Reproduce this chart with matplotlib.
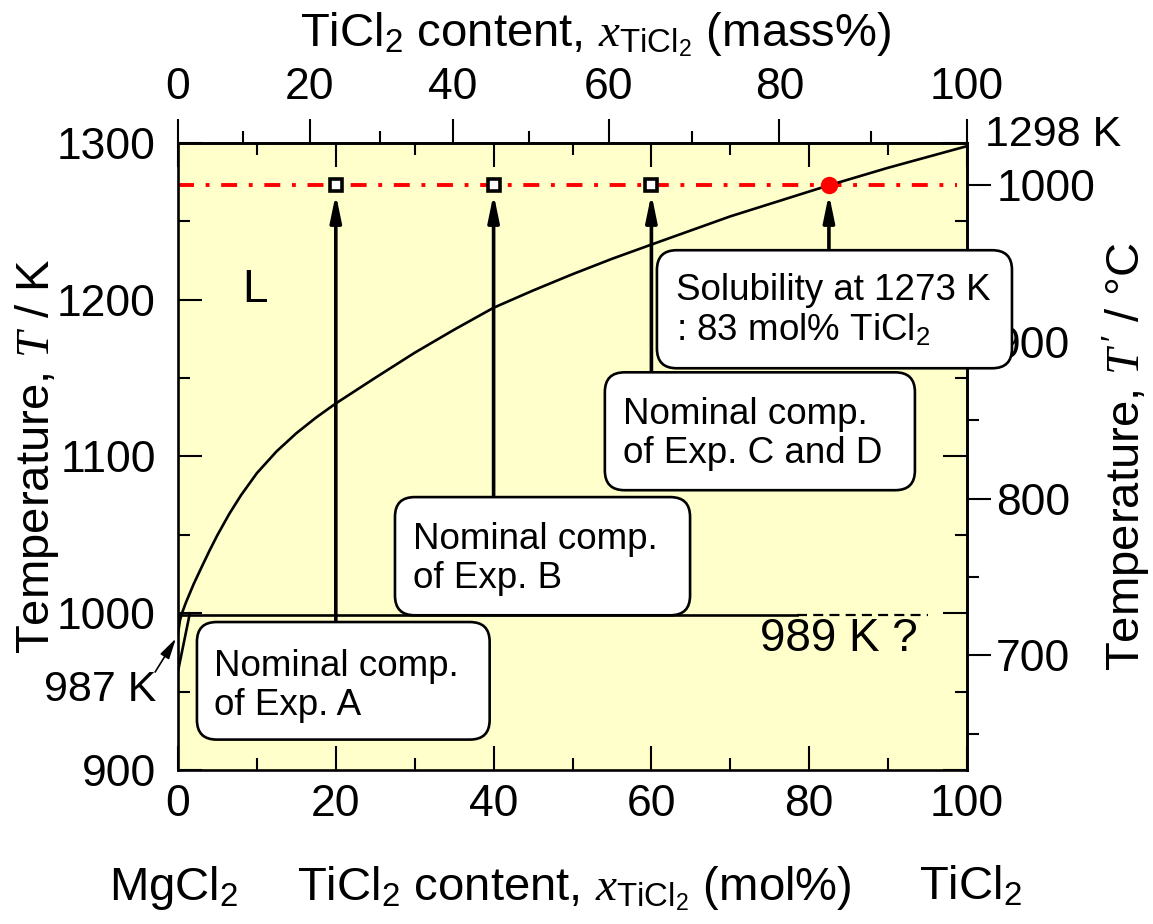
import numpy as np
import matplotlib
matplotlib.use('Agg')
import matplotlib.pyplot as plt
from matplotlib.ticker import MultipleLocator, FixedLocator
from matplotlib.patches import FancyBboxPatch

plt.rcParams['font.family'] = ['Liberation Sans', 'DejaVu Sans']
plt.rcParams['mathtext.fontset'] = 'custom'
plt.rcParams['mathtext.rm'] = 'Liberation Sans'
plt.rcParams['mathtext.it'] = 'Liberation Serif:italic'
plt.rcParams['mathtext.bf'] = 'Liberation Sans:bold'

# ---------------- data ----------------
liq_x = [0, 0.25, 0.5, 1, 1.3, 2, 3, 4, 5, 6.5, 8, 10, 12.5, 15, 17.5, 20, 25, 30,
         35, 40, 45, 50, 55, 60, 70, 82.5, 90, 100]
liq_T = [987, 995.5, 1000, 1006.8, 1010.4, 1018.8, 1029.5, 1040, 1049.9, 1063.4,
         1075.4, 1089.4, 1103.3, 1114.85, 1124.85, 1133.85, 1150.2, 1166.2, 1180.9,
         1194.9, 1205.9, 1216.3, 1226.1, 1235.2, 1253.2, 1273, 1284.2, 1298]
steep_x = [0, 1.5]
steep_T = [963, 1000]
inv_T = 999            # horizontal invariant line
inv_solid_x = [0, 78.5]
inv_dash_x = [78.5, 95]
iso_T = 1273           # experiment temperature
iso_x = [0, 98.7]
exp_x = [20, 40, 60]   # nominal compositions (mol%)
solub_x = 82.5         # solubility at 1273 K
M_MgCl2 = 95.21
M_TiCl2 = 118.77

x_ticks = [0, 20, 40, 60, 80, 100]
T_ticks = [900, 1000, 1100, 1200, 1300]
mass_ticks = [0, 20, 40, 60, 80, 100]
C_ticks = [700, 800, 900, 1000]

# annotation boxes: (x0, T0, x1, T1, text, text_x, text_top)
boxes = [
    (2.4, 919.4, 39.5, 994.4, 'Nominal comp.\nof Exp. A', 4.6, 977.5),
    (27.5, 998.7, 64.9, 1074.1, 'Nominal comp.\nof Exp. B', 29.8, 1058.2),
    (54.1, 1078.5, 93.4, 1153.7, 'Nominal comp.\nof Exp. C and D', 56.4, 1138.2),
    (60.7, 1156.3, 105.7, 1231.6, 'Solubility at 1273 K\n: 83 mol% TiCl$_2$', 63.1, 1216.9),
]
arrow_starts = [994.4, 1074.1, 1153.7]

# ---------------- figure ----------------
W, H = 1153, 924
fig = plt.figure(figsize=(W / 100, H / 100), dpi=100)
L, R, Tp, B = 178, 967, 143, 770
ax = fig.add_axes([L / W, 1 - B / H, (R - L) / W, (B - Tp) / H])
ax.set_facecolor('#FFFFCC')
ax.set_xlim(0, 100)
ax.set_ylim(900, 1300)

for s in ax.spines.values():
    s.set_linewidth(1.9)
    s.set_zorder(6)

ax.xaxis.set_major_locator(FixedLocator(x_ticks))
ax.xaxis.set_minor_locator(MultipleLocator(10))
ax.yaxis.set_major_locator(FixedLocator(T_ticks))
ax.yaxis.set_minor_locator(MultipleLocator(50))
ax.tick_params(which='both', direction='in', top=True, right=True, width=1.5,
               labelsize=32, labeltop=False, labelright=False)
ax.tick_params(which='major', length=17)
ax.tick_params(which='minor', length=8.5)
ax.tick_params(axis='x', pad=10)
ax.tick_params(axis='y', pad=16)

# top: mass%
def mol2mass(x):
    x = np.asarray(x, dtype=float)
    return 100 * x * M_TiCl2 / (x * M_TiCl2 + (100 - x) * M_MgCl2)

def mass2mol(w):
    w = np.asarray(w, dtype=float)
    return 100 * (w / M_TiCl2) / (w / M_TiCl2 + (100 - w) / M_MgCl2)

secx = ax.secondary_xaxis('top', functions=(mol2mass, mass2mol))
secx.xaxis.set_major_locator(FixedLocator(mass_ticks))
secx.xaxis.set_minor_locator(FixedLocator([10, 30, 50, 70, 90]))
secx.tick_params(which='both', direction='out', width=1.5, labelsize=32)
secx.tick_params(which='major', length=17, pad=8)
secx.tick_params(which='minor', length=8.5)
secx.spines['top'].set_linewidth(1.9)

# right: Celsius
secy = ax.secondary_yaxis('right', functions=(lambda T: T - 273.15, lambda C: C + 273.15))
secy.yaxis.set_major_locator(FixedLocator(C_ticks))
secy.yaxis.set_minor_locator(FixedLocator([650, 750, 850, 950]))
secy.tick_params(which='both', direction='out', width=1.5, labelsize=32)
secy.tick_params(which='major', length=17, pad=4)
secy.tick_params(which='minor', length=8.5)
secy.spines['right'].set_linewidth(1.9)

# ---------------- lines ----------------
ax.plot(iso_x, [iso_T, iso_T], color='red', lw=2.8,
        linestyle=(0, (4.1, 3.0, 1.0, 3.0)), zorder=2)
ax.plot(liq_x, liq_T, color='black', lw=1.9, zorder=3, solid_joinstyle='round')
ax.plot(steep_x, steep_T, color='black', lw=1.9, zorder=3)
ax.plot(inv_solid_x, [inv_T, inv_T], color='black', lw=1.9, zorder=3)
ax.plot(inv_dash_x, [inv_T, inv_T], color='black', lw=1.6,
        linestyle=(0, (4.5, 2.8)), zorder=3)

# arrows
for xx, ys in zip(exp_x, arrow_starts):
    ax.annotate('', xy=(xx, iso_T - 5.5), xytext=(xx, ys),
                arrowprops=dict(arrowstyle='-|>,head_length=1.6,head_width=0.33',
                                mutation_scale=10, lw=2.6, color='black',
                                shrinkA=0, shrinkB=0), zorder=4)
ax.annotate('', xy=(solub_x, iso_T - 5.5), xytext=(solub_x, boxes[3][3]),
            arrowprops=dict(arrowstyle='-|>,head_length=1.6,head_width=0.33',
                            mutation_scale=10, lw=2.6, color='black',
                            shrinkA=0, shrinkB=0), zorder=4)

# markers
ax.plot(exp_x, [iso_T] * len(exp_x), linestyle='none', marker='s', ms=8.5,
        mfc='white', mec='black', mew=2.6, zorder=5)
ax.plot([solub_x], [iso_T], linestyle='none', marker='o', ms=11.5,
        mfc='red', mec='red', zorder=5)

# boxes
aspect = ((R - L) / 100) / ((B - Tp) / 400)
for x0, y0, x1, y1, txt, tx, ty in boxes:
    p = FancyBboxPatch((x0, y0), x1 - x0, y1 - y0,
                       boxstyle='round,pad=0,rounding_size=2.5',
                       mutation_aspect=aspect, facecolor='white',
                       edgecolor='black', lw=1.9, zorder=7, clip_on=False)
    ax.add_patch(p)
    ax.text(tx, ty, txt, fontsize=26.5, ha='left', va='top', zorder=8,
            linespacing=1.15)

# texts
ax.text(9.8, 1206, 'L', fontsize=33, ha='center', va='center')
ax.text(83.7, 983.4, '989 K ?', fontsize=33, ha='center', va='center')
ax.text(-9.9, 951, '987 K', fontsize=31, ha='center', va='center')
ax.annotate('', xy=(-0.25, 984), xytext=(-2.9, 962.5), annotation_clip=False,
            arrowprops=dict(arrowstyle='-|>,head_length=0.9,head_width=0.22',
                            mutation_scale=14, lw=1.2, color='black',
                            shrinkA=0, shrinkB=0))
ax.text(102.3, 1305, '1298 K', fontsize=31, ha='left', va='center')

# axis labels
ax.text(0.529, 1.1536, r'TiCl$_2$ content, $x_{\mathrm{TiCl}_2}$ (mass%)',
        transform=ax.transAxes, fontsize=34, ha='center', va='baseline')
ax.text(0.502, -0.2073, r'TiCl$_2$ content, $x_{\mathrm{TiCl}_2}$ (mol%)',
        transform=ax.transAxes, fontsize=34, ha='center', va='baseline')
ax.text(-0.006, -0.2073, r'MgCl$_2$', transform=ax.transAxes, fontsize=34,
        ha='center', va='baseline')
ax.text(1.004, -0.2073, r'TiCl$_2$', transform=ax.transAxes, fontsize=34,
        ha='center', va='baseline')
ax.text(-0.1787, 0.5, r'Temperature, $T$ / K', transform=ax.transAxes,
        fontsize=34, rotation=90, ha='center', va='center')
ax.text(1.203, 0.5, r"Temperature, $T\,'$ / °C", transform=ax.transAxes,
        fontsize=34, rotation=90, ha='center', va='center')

fig.savefig('out.png', dpi=100, facecolor='white')
